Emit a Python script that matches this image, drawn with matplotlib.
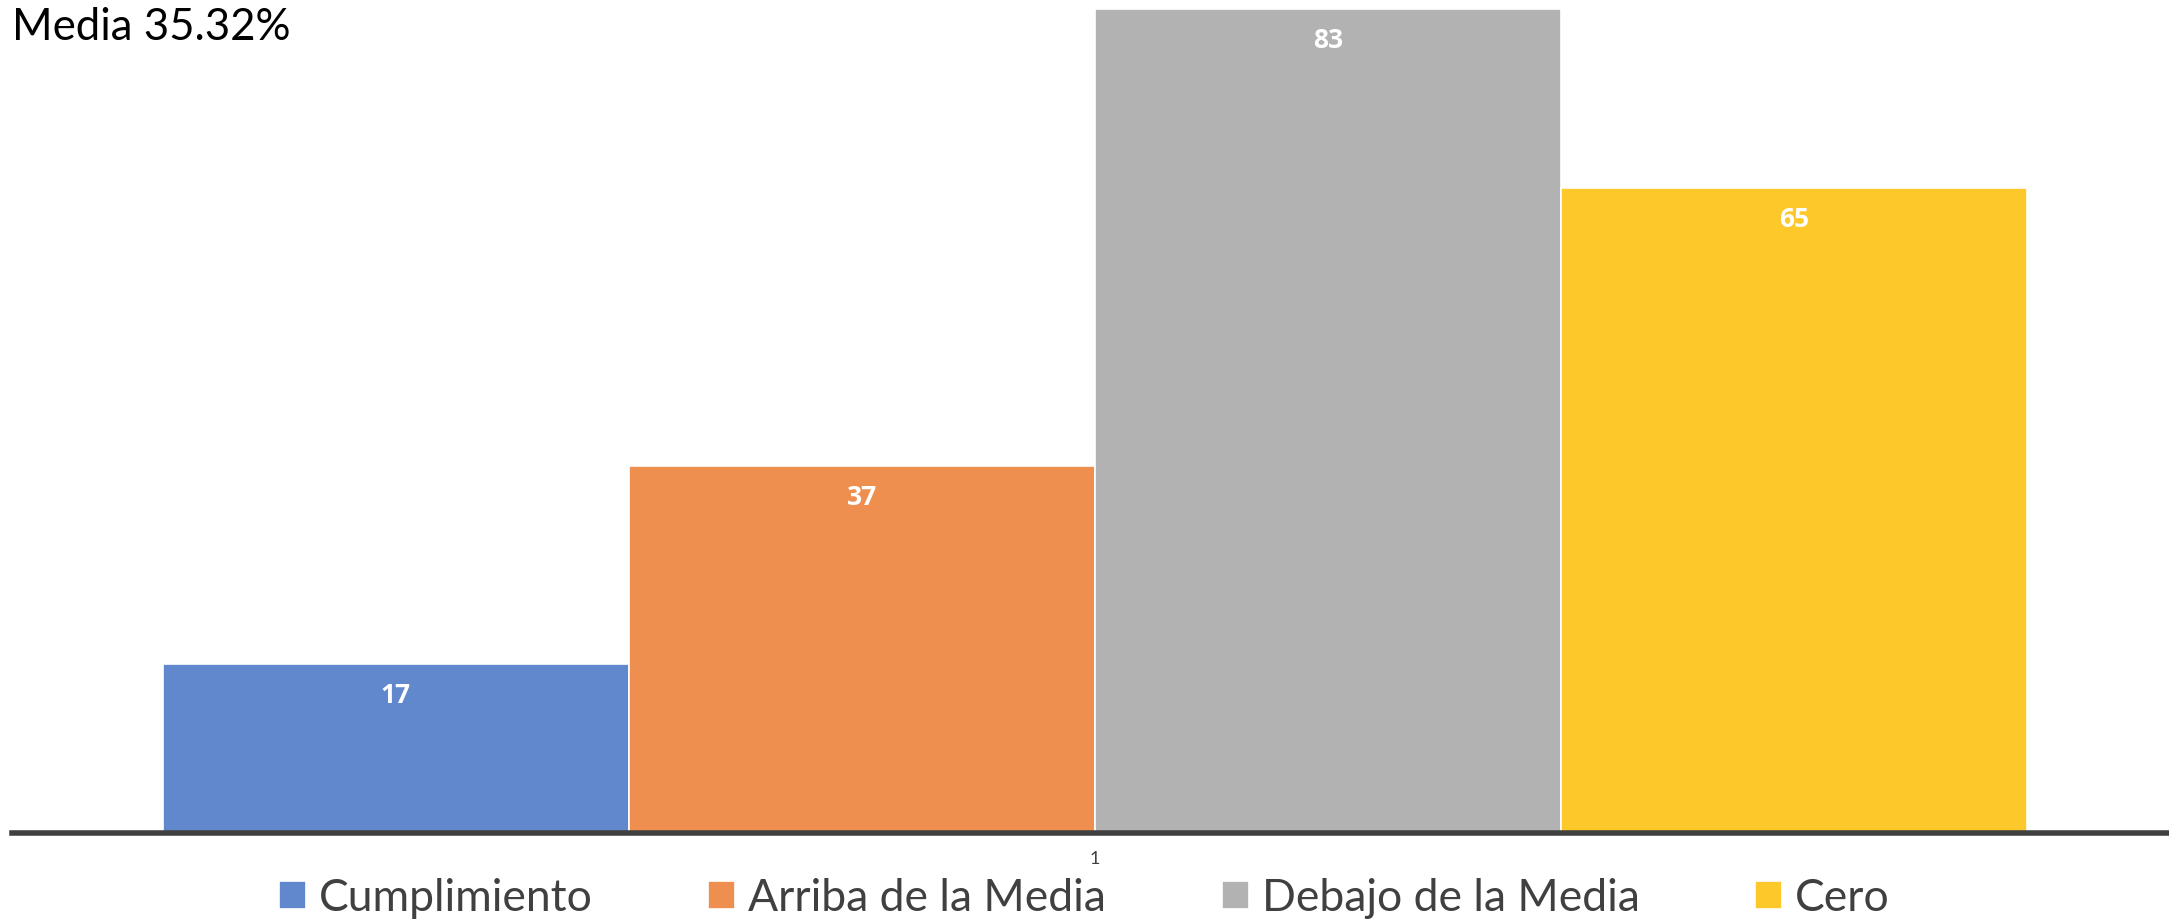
import matplotlib
matplotlib.use("Agg")
import matplotlib.pyplot as plt

categories = ["Cumplimiento", "Arriba de la Media", "Debajo de la Media", "Cero"]
values = [17, 37, 83, 65]
colors = ["#6187CD", "#EE8F50", "#B2B2B2", "#FDC829"]
title = "Media 35.32%"
tick_labels = ["1"]

plt.rcParams["font.family"] = ["Lato", "DejaVu Sans"]

fig = plt.figure(figsize=(21.69, 9.2), dpi=100)
ax = fig.add_axes([12 / 2169, 86 / 920, 1 - 12 / 2169, 834 / 920])

width = 0.2
offsets = [-0.3, -0.1, 0.1, 0.3]
for i in range(len(categories)):
    ax.bar(offsets[i], values[i], width, color=colors[i], edgecolor="white",
           linewidth=1.2, label=categories[i], zorder=2)
    ax.text(offsets[i], values[i] - 3.1, str(values[i]), ha="center", va="center",
            color="white", fontsize=19, fontweight="bold", family="Open Sans", zorder=3)

ax.set_xlim(-0.4648, 0.461)
ax.set_ylim(0, 84)
ax.set_yticks([])
ax.set_xticks([0])
ax.set_xticklabels(tick_labels, fontsize=13, color="#404040")
ax.tick_params(axis="x", length=0, pad=12)
for s in ["top", "right", "left"]:
    ax.spines[s].set_visible(False)
ax.spines["bottom"].set_color("#404040")
ax.spines["bottom"].set_linewidth(4)
ax.spines["bottom"].set_zorder(4)

fig.text(12 / 2169, 1 - 27 / 920, title, fontsize=31.5, color="black",
         ha="left", va="center")

fig.legend(loc="center", bbox_to_anchor=(0.5, 0.023), ncol=4, frameon=False,
           fontsize=32, handlelength=0.6, handleheight=0.6, handletextpad=0.3,
           columnspacing=2.6, labelcolor="#404040")

fig.savefig("out.png", dpi=100)
